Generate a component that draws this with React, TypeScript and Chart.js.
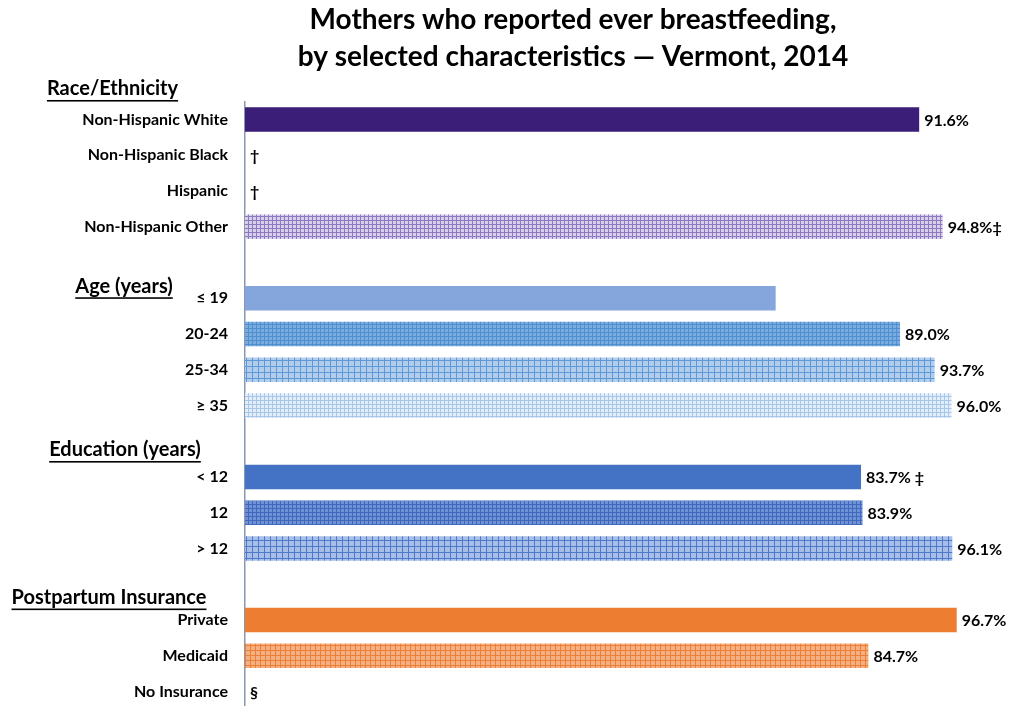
import { useEffect, useRef } from "react";
import { Chart, registerables } from "chart.js";
Chart.register(...registerables);

const categories = [
  "Non-Hispanic White", "Non-Hispanic Black", "Hispanic", "Non-Hispanic Other", "",
  "≤ 19", "20-24", "25-34", "≥ 35", "",
  "< 12", "12", "> 12", "",
  "Private", "Medicaid", "No Insurance",
];
const values: (number | null)[] = [
  91.6, null, null, 94.8, null,
  72.1, 89.0, 93.7, 96.0, null,
  83.7, 83.9, 96.1, null,
  96.7, 84.7, null,
];
const valueLabels = [
  "91.6%", "†", "†", "94.8%‡", "",
  "", "89.0%", "93.7%", "96.0%", "",
  "83.7% ‡", "83.9%", "96.1%", "",
  "96.7%", "84.7%", "§",
];
const titleLines = ["Mothers who reported ever breastfeeding,", "by selected characteristics — Vermont, 2014"];
const groupHeaders = ["Race/Ethnicity", "Age (years)", "Education (years)", "Postpartum Insurance"];
const groupAnchorIndex = [0, 5, 10, 14];

// layout (not data)
const headerLayout = [
  { dy: -30.5, cx: 112.5 },
  { dy: -12, cx: 124 },
  { dy: -27, cx: 125 },
  { dy: -22.5, cx: 109 },
];

const FONT = "Lato, 'Open Sans', sans-serif";

function grid(base: string, line: string, size: number): CanvasPattern | string {
  const c = document.createElement("canvas");
  c.width = size;
  c.height = size;
  const g = c.getContext("2d");
  if (!g) return base;
  g.fillStyle = base;
  g.fillRect(0, 0, size, size);
  g.fillStyle = line;
  g.fillRect(0, 0, 1, size);
  g.fillRect(0, 0, size, 1);
  return g.createPattern(c, "repeat") || base;
}

export default function App() {
  const ref = useRef<HTMLCanvasElement | null>(null);
  useEffect(() => {
    if (!ref.current) return;
    const colors = [
      "#3b1e77",
      "#3b1e77",
      "#3b1e77",
      grid("#d8cfea", "#8e78bf", 4),
      "#000",
      "#85a5dd",
      grid("#7aace0", "#4f8fd0", 4),
      grid("#b2cdec", "#5f9ad8", 6),
      grid("#e4eef9", "#a6c6ea", 4),
      "#000",
      "#4472c4",
      grid("#6f92d6", "#4068bd", 4),
      grid("#a7bee8", "#4d79c8", 6),
      "#000",
      "#ed7d31",
      grid("#f4b083", "#ec7f36", 5),
      "#000",
    ];
    const overlay = {
      id: "overlay",
      afterDraw(chart: any) {
        const ctx = chart.ctx as CanvasRenderingContext2D;
        const xs = chart.scales.x;
        const ys = chart.scales.y;
        ctx.save();
        ctx.fillStyle = "#000";
        // title
        ctx.font = `bold 28px ${FONT}`;
        ctx.textAlign = "center";
        ctx.textBaseline = "middle";
        ctx.fillText(titleLines[0], 573, 20);
        ctx.fillText(titleLines[1], 573, 57);
        // value labels
        ctx.font = `bold 16px ${FONT}`;
        ctx.textAlign = "left";
        valueLabels.forEach((lab, i) => {
          if (!lab) return;
          const v = values[i] ?? 0;
          const x = xs.getPixelForValue(v) + 5;
          const y = ys.getPixelForValue(i);
          ctx.fillText(lab, x, y + 1);
        });
        // group headers
        ctx.font = `bold 20px ${FONT}`;
        ctx.textAlign = "center";
        groupHeaders.forEach((h, k) => {
          const y = ys.getPixelForValue(groupAnchorIndex[k]) + headerLayout[k].dy;
          const cx = headerLayout[k].cx;
          ctx.fillText(h, cx, y);
          const w = ctx.measureText(h).width;
          ctx.fillRect(cx - w / 2, y + 11, w, 1.6);
        });
        ctx.restore();
      },
    };
    const chart = new Chart(ref.current, {
      type: "bar",
      data: {
        labels: categories,
        datasets: [
          {
            data: values as any,
            backgroundColor: colors as any,
            borderWidth: 0,
            barPercentage: 0.68,
            categoryPercentage: 1,
          },
        ],
      },
      options: {
        indexAxis: "y",
        animation: false,
        responsive: false,
        events: [],
        layout: { padding: { top: 101.6, right: 29, bottom: 0, left: 0 } },
        plugins: { legend: { display: false }, title: { display: false }, tooltip: { enabled: false } },
        scales: {
          x: { display: false, min: 0, max: 100 },
          y: {
            grid: { display: false, drawTicks: false },
            border: { display: true, color: "#8a98ad", width: 1.5 },
            ticks: {
              color: "#000",
              padding: 17,
              font: { family: FONT, weight: "bold", size: 16 },
              autoSkip: false,
            },
            afterFit(scale: any) {
              scale.width = 245;
            },
          },
        },
      },
      plugins: [overlay],
    });
    return () => chart.destroy();
  }, []);
  return (
    <div style={{ position: "fixed", left: 0, top: 0, width: 1010, height: 706, overflow: "hidden", background: "#fff" }}>
      <canvas ref={ref} width={1010} height={736} style={{ width: 1010, height: 736, display: "block" }} />
    </div>
  );
}
